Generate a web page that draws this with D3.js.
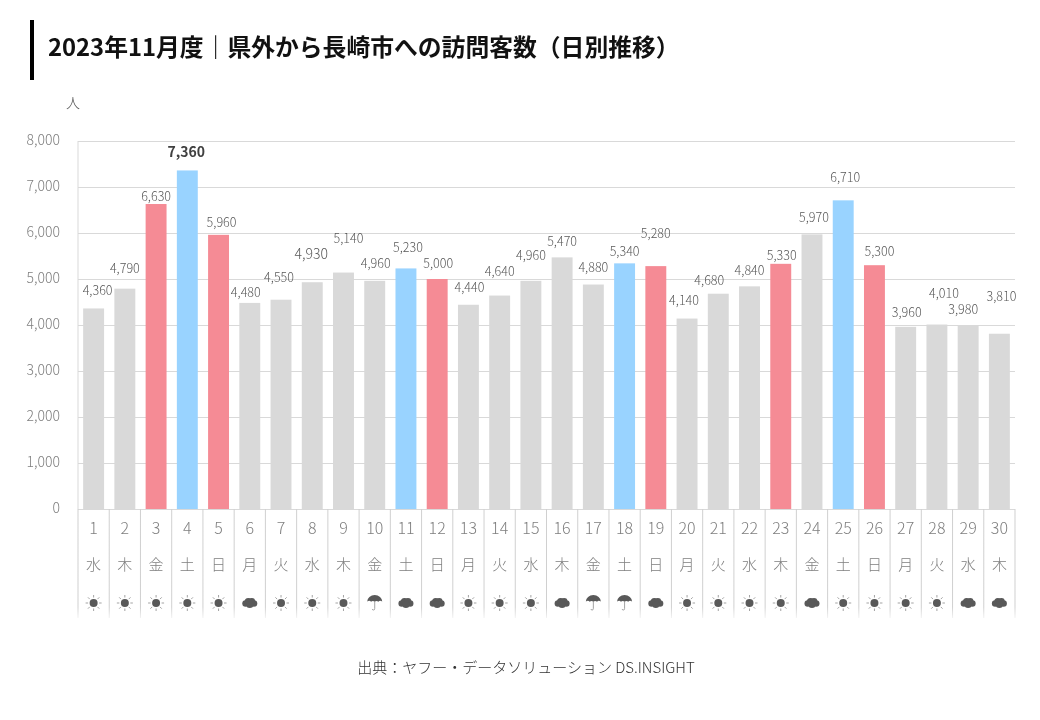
<!DOCTYPE html>
<html lang="ja">
<head>
<meta charset="utf-8">
<script src="https://cdn.jsdelivr.net/npm/d3@7"></script>
<style>
  html, body { margin: 0; background: #fff; }
  svg { display: block; }
  text { font-family: "Noto Sans CJK JP", "Noto Sans", sans-serif; filter: grayscale(1); }
  .domain { display: none; }
</style>
</head>
<body>
<svg id="chart" width="1040" height="720"></svg>
<script>
const days = d3.range(1, 31).map(String);
const weekdays = ['水','木','金','土','日','月','火','水','木','金','土','日','月','火','水','木','金','土','日','月','火','水','木','金','土','日','月','火','水','木'];
const visitors = [4360,4790,6630,7360,5960,4480,4550,4930,5140,4960,5230,5000,4440,4640,4960,5470,4880,5340,5280,4140,4680,4840,5330,5970,6710,5300,3960,4010,3980,3810];
// s = sat, h = sunday or holiday, n = normal day
const dayTypes = ['n','n','h','s','h','n','n','n','n','n','s','h','n','n','n','n','n','s','h','n','n','n','h','n','s','h','n','n','n','n'];
const weather = ['sun','sun','sun','sun','sun','cloud','sun','sun','sun','rain','cloud','cloud','sun','sun','sun','cloud','rain','rain','cloud','sun','sun','sun','sun','cloud','sun','sun','sun','sun','cloud','cloud'];
const yTicks = [0,1000,2000,3000,4000,5000,6000,7000,8000];
// the labels were moved by hand in the original, so each has its own lift and shift
const labelLift = [18,20,7,18,12,10,22,28,34,17,21,15,17,24,25,16,17,12,32,18,13,16,8,17,23,14,14,31,16,37];
const labelShift = [4,0,0,-1,3,-4,-2,-1,5,1,2,1,1,0,0,0,0,0,0,-3,-9,0,1,2,2,5,1,7,-5,2];

const svg = d3.select('#chart');
const margin = { top: 141, right: 25, bottom: 211, left: 78 };
const width = 1040 - margin.left - margin.right;
const height = 720 - margin.top - margin.bottom;

const x = d3.scaleBand().domain(d3.range(30)).range([margin.left, margin.left + width]).paddingInner(0.33).paddingOuter(0.165);
const xRow = d3.scaleBand().domain(d3.range(30)).range([margin.left, margin.left + width]);
const y = d3.scaleLinear().domain([0, 8000]).range([margin.top + height, margin.top]);
const barColor = d3.scaleOrdinal().domain(['n','s','h']).range(['#d9d9d9','#99d3ff','#f58b95']);

// title block
svg.append('rect').attr('x', 30).attr('y', 20).attr('width', 4).attr('height', 60).attr('fill', '#000');
svg.append('text').attr('x', 48).attr('y', 56)
    .attr('font-size', 23.8).attr('font-weight', 700).attr('fill', '#111')
    .text('2023年11月度｜県外から長崎市への訪問客数（日別推移）');
svg.append('text').attr('x', 73).attr('y', 108).attr('text-anchor', 'middle')
    .attr('font-size', 14).attr('font-weight', 300).attr('fill', '#595959').text('人');

// gridlines and y axis
const yAxis = svg.append('g')
    .attr('transform', `translate(${margin.left},0)`)
    .call(d3.axisLeft(y).tickValues(yTicks).tickFormat(d3.format(',')).tickSize(-width).tickPadding(18));
yAxis.selectAll('line').attr('stroke', '#d9d9d9');
yAxis.selectAll('text').attr('font-size', 14).attr('font-weight', 300).attr('fill', '#7f7f7f')
    .attr('dy', '0.28em')
    .style('font-family', '"Noto Sans CJK JP"');

svg.append('line')
    .attr('x1', margin.left).attr('x2', margin.left)
    .attr('y1', margin.top).attr('y2', margin.top + height)
    .attr('stroke', '#d9d9d9');

// bars
svg.append('g').selectAll('rect')
    .data(visitors)
    .join('rect')
    .attr('x', (d, i) => x(i))
    .attr('width', x.bandwidth())
    .attr('y', d => y(d))
    .attr('height', d => y(0) - y(d))
    .attr('fill', (d, i) => barColor(dayTypes[i]));

// value labels
svg.append('g').selectAll('text')
    .data(visitors)
    .join('text')
    .attr('x', (d, i) => x(i) + x.bandwidth() / 2 + labelShift[i])
    .attr('y', (d, i) => y(d) - labelLift[i])
    .attr('dy', '0.35em')
    .attr('text-anchor', 'middle')
    .attr('font-size', (d, i) => i === 3 ? 14 : i === 7 ? 14 : 12.5)
    .attr('font-weight', (d, i) => i === 3 ? 700 : 300)
    .attr('fill', (d, i) => i === 3 ? '#404040' : '#595959')
    .text(d => d3.format(',')(d));

// separators under the axis, they fade out at the bottom
const fade = svg.append('defs').append('linearGradient')
    .attr('id', 'sepFade').attr('gradientUnits', 'userSpaceOnUse')
    .attr('x1', 0).attr('x2', 0).attr('y1', 509).attr('y2', 618);
fade.append('stop').attr('offset', 0.9).attr('stop-color', '#d0d0d0');
fade.append('stop').attr('offset', 1).attr('stop-color', '#f2f2f2');

svg.append('g').selectAll('rect')
    .data(d3.range(31))
    .join('rect')
    .attr('x', d => (d < 30 ? xRow(d) : margin.left + width) - 0.5)
    .attr('width', 1)
    .attr('y', 509).attr('height', 109)
    .attr('fill', 'url(#sepFade)');

// day numbers
const dayAxis = svg.append('g')
    .attr('transform', `translate(0,${margin.top + height})`)
    .call(d3.axisBottom(xRow).tickSize(0).tickPadding(12).tickFormat(i => days[i]));
dayAxis.selectAll('text').attr('font-size', 16).attr('font-weight', 300).attr('fill', '#7f7f7f')
    .attr('y', 14)
    .style('font-family', '"Noto Sans CJK JP"');

// weekday row
svg.append('g').selectAll('text')
    .data(weekdays)
    .join('text')
    .attr('x', (d, i) => xRow(i) + xRow.bandwidth() / 2)
    .attr('y', 565).attr('dy', '0.35em')
    .attr('text-anchor', 'middle')
    .attr('font-size', 15).attr('font-weight', 300).attr('fill', '#7f7f7f')
    .text(d => d);

// weather icons
const iconColor = '#595959';
const drawIcon = {
    sun(g) {
        g.append('circle').attr('r', 4).attr('fill', iconColor);
        d3.range(8).forEach(k => {
            const a = k * Math.PI / 4;
            g.append('line')
                .attr('x1', 5.5 * Math.cos(a)).attr('y1', 5.5 * Math.sin(a))
                .attr('x2', 8 * Math.cos(a)).attr('y2', 8 * Math.sin(a))
                .attr('stroke', '#999').attr('stroke-width', 0.9);
        });
    },
    cloud(g) {
        [[-4.2, 0.5, 3.3], [4.2, 0.5, 3.3], [-1.5, -1.5, 3.6], [2, -1.5, 3.4], [0, 1.5, 3.6]].forEach(c => {
            g.append('circle').attr('cx', c[0]).attr('cy', c[1]).attr('r', c[2]).attr('fill', iconColor);
        });
    },
    rain(g) {
        g.append('path').attr('d', 'M-7.5,-1.5 A7.5,6.5 0 0 1 7.5,-1.5 Q5,-3 3.7,-1.2 Q1.8,-3 0,-1.2 Q-1.8,-3 -3.7,-1.2 Q-5,-3 -7.5,-1.5 Z')
            .attr('fill', iconColor);
        g.append('path').attr('d', 'M0,-1.5 V5.5 Q0,7 -1.2,7 Q-2.4,7 -2.4,6')
            .attr('fill', 'none').attr('stroke', '#8c8c8c').attr('stroke-width', 0.8);
    }
};
svg.append('g').selectAll('g')
    .data(weather)
    .join('g')
    .attr('transform', (d, i) => `translate(${xRow(i) + xRow.bandwidth() / 2},603)`)
    .each(function(d) { drawIcon[d](d3.select(this)); });

// source
svg.append('text').attr('x', 526).attr('y', 673).attr('text-anchor', 'middle')
    .attr('font-size', 15).attr('font-weight', 300).attr('fill', '#333')
    .text('出典：ヤフー・データソリューション DS.INSIGHT');
</script>
</body>
</html>
